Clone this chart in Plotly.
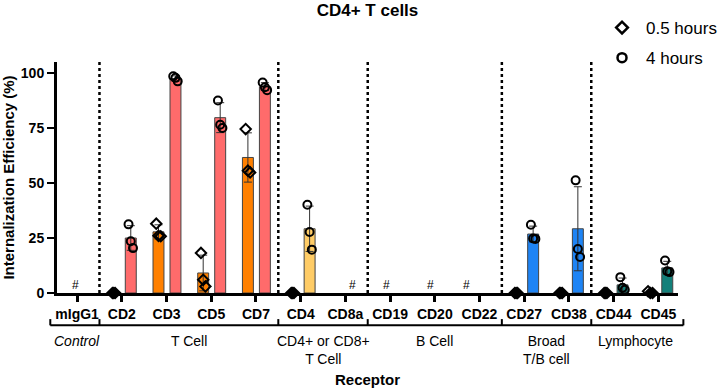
import plotly.graph_objects as go

# ---------------- data ----------------
categories = ["mIgG1", "CD2", "CD3", "CD5", "CD7", "CD4", "CD8a",
              "CD19", "CD20", "CD22", "CD27", "CD38", "CD44", "CD45"]
group_names = ["<i>Control</i>", "T Cell", "CD4+ or CD8+<br>T Cell",
               "B Cell", "Broad<br>T/B cell", "Lymphocyte"]
group_sizes = [1, 4, 2, 3, 2, 2]
y_ticks = [0, 25, 50, 75, 100]

# 0.5 hours
mean_05 = [None, 0, 27.8, 9.1, 61.6, 0, None, None, None, None, 0, 0, 0, 0.3]
sd_05 = [None, 0, 3.2, 8.1, 11.2, 0, None, None, None, None, 0, 0, 0, 0.5]
pts_05 = [None, [0, 0, 0], [31.5, 26.0, 25.8], [18.2, 6.0, 3.0],
          [74.5, 55.6, 54.8], [0, 0, 0], None, None, None, None,
          [0, 0, 0], [0, 0, 0], [0, 0, 0], [0.8, 0, 0]]

# 4 hours
mean_4 = [None, 25.0, 97.5, 79.7, 93.8, 29.2, None, None, None, None, 26.8, 29.2, 3.7, 11.4]
sd_4 = [None, 5.6, 1.2, 6.8, 1.8, 10.3, None, None, None, None, 3.6, 19.1, 3.1, 3.0]
pts_4 = [None, [31.2, 23.5, 20.4], [98.5, 97.8, 96.2], [87.5, 76.5, 75.0],
         [95.7, 93.5, 92.2], [40.1, 27.7, 19.7], None, None, None, None,
         [31.0, 24.8, 24.6], [51.2, 20.0, 16.4], [7.2, 2.4, 1.5], [14.8, 9.9, 9.5]]

# ---------------- styles ----------------
ORANGE, SALMON, YELLOW, BLUE, TEAL = "#FF8000", "#FF6B6B", "#FFCC66", "#1E84F5", "#13807A"
color_05 = [None, ORANGE, ORANGE, ORANGE, ORANGE, YELLOW, YELLOW, None, None, None, BLUE, BLUE, TEAL, TEAL]
color_4 = [None, SALMON, SALMON, SALMON, SALMON, YELLOW, YELLOW, None, None, None, BLUE, BLUE, TEAL, TEAL]
hash_dx = {0: -0.04, 6: 0.15, 7: -0.07, 8: -0.1, 9: -0.29}
OFF_05, OFF_4, BAR_W = -0.18, 0.2, 0.245
JIT = [-0.05, 0.0, 0.05]
ZJIT = [-0.03, 0.0, 0.03]
XMIN, XMAX = -0.45, 13.44
FONT = "Arial, Liberation Sans, sans-serif"

fig = go.Figure()

def add_series(means, sds, pts, colors, off, symbol, name):
    xs = [i + off for i in range(len(categories))]
    fig.add_trace(go.Bar(
        x=xs, y=means, width=BAR_W,
        marker=dict(color=[c if c else "rgba(0,0,0,0)" for c in colors],
                    line=dict(color="#444", width=1)),
        error_y=dict(type="data", array=[s if s is not None else 0 for s in sds],
                     color="#333", thickness=1, width=4),
        showlegend=False, hoverinfo="skip"))
    px, py, pc = [], [], []
    for i, p in enumerate(pts):
        if not p:
            continue
        jit = ZJIT if max(p) == 0 else JIT
        for j, v in enumerate(p):
            px.append(i + off + jit[j])
            py.append(v)
            pc.append("black" if v == 0 else "rgba(0,0,0,0)")
    fig.add_trace(go.Scatter(
        x=px, y=py, mode="markers", cliponaxis=False, showlegend=False,
        marker=dict(symbol=symbol, size=8, color=pc, line=dict(color="black", width=2)),
        hoverinfo="skip"))
    fig.add_trace(go.Scatter(
        x=[None], y=[None], mode="markers", name=name, legendgroup=name,
        marker=dict(symbol=symbol, size=9, color="rgba(0,0,0,0)",
                    line=dict(color="black", width=2.5))))

add_series(mean_05, sd_05, pts_05, color_05, OFF_05, "diamond", "0.5 hours")
add_series(mean_4, sd_4, pts_4, color_4, OFF_4, "circle", "4 hours")

def to_paper(xd):
    return (xd - XMIN) / (XMAX - XMIN)

shapes = []
annotations = []
bounds = [-0.5]
for s in group_sizes:
    bounds.append(bounds[-1] + s)
BR_Y = -0.140
TICK_H = 0.027
for b in bounds[1:-1]:
    shapes.append(dict(type="line", xref="x", yref="paper", x0=b, x1=b, y0=0, y1=1,
                       line=dict(color="black", width=2.5, dash="dot")))
ends = [-0.6] + bounds[1:-1] + [13.56]
shapes.append(dict(type="line", xref="paper", yref="paper",
                   x0=to_paper(ends[0]), x1=to_paper(ends[-1]), y0=BR_Y, y1=BR_Y,
                   line=dict(color="black", width=2)))
for e in ends:
    shapes.append(dict(type="line", xref="paper", yref="paper",
                       x0=to_paper(e), x1=to_paper(e), y0=BR_Y, y1=BR_Y + TICK_H,
                       line=dict(color="black", width=2)))
for k, name in enumerate(group_names):
    c = (bounds[k] + bounds[k + 1]) / 2
    annotations.append(dict(xref="paper", yref="paper", x=to_paper(c), y=BR_Y - 0.025,
                            yanchor="top", xanchor="center", showarrow=False, text=name,
                            font=dict(size=14, color="black", family=FONT)))
for i in range(len(categories)):
    if mean_05[i] is None and mean_4[i] is None:
        annotations.append(dict(xref="x", yref="y", x=i + hash_dx.get(i, 0), y=3.8,
                                text="#", showarrow=False, yanchor="middle",
                                font=dict(size=12, color="black", family=FONT)))

fig.update_layout(
    width=720, height=389,
    margin=dict(l=57, r=42, t=62, b=96, autoexpand=False),
    paper_bgcolor="white", plot_bgcolor="white",
    font=dict(family=FONT, color="black"),
    barmode="overlay",
    title=dict(text="<b>CD4+ T cells</b>", x=0.5, xref="paper", xanchor="center",
               y=1 - 10 / 389, yanchor="middle", font=dict(size=17, color="black")),
    legend=dict(x=0.8712, y=1.225, xanchor="left", yanchor="top",
                font=dict(size=17, color="black"), tracegroupgap=5, itemwidth=38,
                bgcolor="rgba(0,0,0,0)", itemclick=False),
    shapes=shapes, annotations=annotations,
    xaxis=dict(range=[XMIN, XMAX], tickmode="array", automargin=False,
               tickvals=list(range(len(categories))), ticktext=categories,
               tickfont=dict(size=14, weight="bold", color="black"),
               ticks="outside", ticklen=6, tickwidth=2.5, tickcolor="black",
               showline=True, linewidth=3, linecolor="black", showgrid=False,
               zeroline=False, layer="below traces",
               title=dict(text="<b>Receptor</b>", font=dict(size=15, color="black"), standoff=54)),
    yaxis=dict(range=[0, 105], tickvals=y_ticks, automargin=False,
               tickfont=dict(size=14, weight="bold", color="black"),
               ticks="outside", ticklen=7, tickwidth=2, tickcolor="black",
               showline=True, linewidth=3, linecolor="black", showgrid=False,
               zeroline=False, layer="below traces",
               title=dict(text="<b>Internalization Efficiency (%)</b>",
                          font=dict(size=15, color="black"), standoff=4)),
)

fig.write_html("out.html")
